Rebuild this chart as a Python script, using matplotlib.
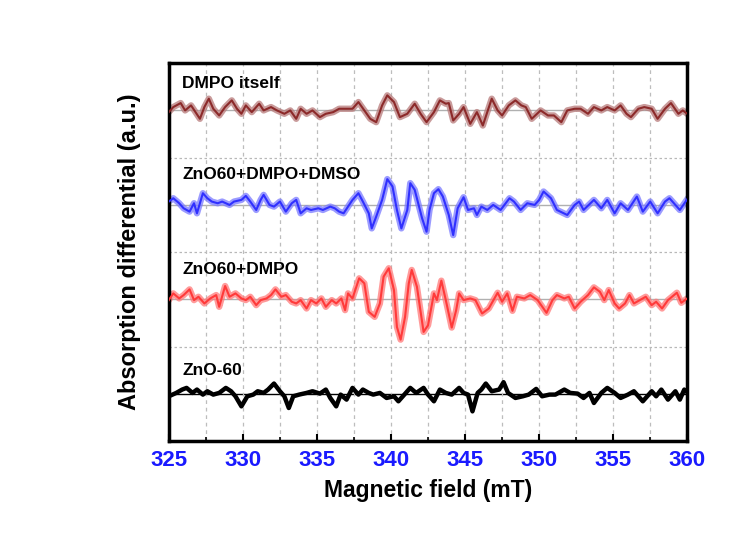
import matplotlib
matplotlib.use("Agg")
import matplotlib.pyplot as plt
from matplotlib.ticker import MultipleLocator

plt.rcParams["font.family"] = ["Liberation Sans", "DejaVu Sans"]
plt.rcParams["font.weight"] = "bold"

# spectra: field (mT) and signal (a.u.), band height = 282 a.u.
zno60_field = [325.0, 325.5, 325.9, 326.2, 326.6, 326.9, 327.3, 327.6, 328.0, 328.4, 328.85,
               329.2, 329.5, 329.9, 330.3, 330.7, 331.0, 331.4, 331.7, 332.1, 332.5, 332.8,
               333.1, 333.4, 333.8, 334.3, 334.7, 335.2, 335.6, 335.9, 336.3, 336.6, 337.0,
               337.4, 337.8, 338.1, 338.5, 338.8, 339.25, 339.7, 340.2, 340.5, 341.0, 341.3,
               341.7, 342.2, 342.5, 342.9, 343.3, 343.7, 344.1, 344.6, 344.9, 345.2, 345.5,
               345.85, 346.1, 346.4, 346.8, 347.3, 347.6, 347.9, 348.4, 348.9, 349.3, 349.8,
               350.2, 350.7, 351.1, 351.7, 352.1, 352.6, 353.0, 353.4, 353.7, 354.2, 354.6,
               355.1, 355.5, 356.0, 356.4, 357.0, 357.6, 357.9, 358.25, 358.7, 359.2, 359.5,
               359.8, 360.0]
zno60_signal = [-7, 3, 13, 18, 3, 13, -2, 8, -2, 3, 18,
                8, -7, -37, -7, -2, 8, 3, 13, 31, 8, -7,
                -42, -7, -2, 3, 8, 1, 13, -12, -37, -2, -17,
                18, -2, 13, 3, -2, 3, -12, -7, -22, 3, 18,
                3, 18, -2, -22, 13, 3, -2, 18, 3, -2, -52,
                3, 13, 31, 8, 13, 35, 3, -12, -7, -2, 15,
                -7, -2, -2, 13, 3, 1, -12, 3, -27, 3, 18,
                3, -12, -2, 8, -22, 8, -7, 13, -17, 8, -17,
                13, 5]

dmpo_field = [325.0, 325.3, 325.7, 326.0, 326.4, 326.7, 327.0, 327.4, 327.8, 328.2, 328.4,
              328.8, 329.1, 329.5, 329.9, 330.2, 330.5, 330.9, 331.2, 331.6, 331.9, 332.2,
              332.6, 332.9, 333.3, 333.6, 333.9, 334.3, 334.6, 334.95, 335.3, 335.6, 336.0,
              336.3, 336.65, 336.9, 337.1, 337.4, 337.85, 338.2, 338.5, 338.9, 339.25, 339.5,
              339.85, 340.2, 340.4, 340.65, 340.95, 341.2, 341.4, 341.75, 342.2, 342.5, 342.9,
              343.1, 343.4, 343.7, 344.1, 344.4, 344.6, 344.9, 345.35, 345.7, 346.15, 346.6,
              347.2, 347.5, 347.85, 348.2, 348.5, 349.0, 349.4, 349.9, 350.5, 350.9, 351.2,
              351.7, 352.0, 352.4, 352.8, 353.3, 353.7, 354.1, 354.4, 354.7, 355.1, 355.4,
              355.8, 356.1, 356.4, 356.8, 357.2, 357.6, 357.9, 358.3, 358.7, 359.3, 359.6,
              360.0]
dmpo_signal = [-2, 18, 3, 13, 30, -2, 8, -12, 3, 13, -22,
               40, 8, 18, 3, -2, 8, -17, -2, 3, 13, 30,
               8, 13, -7, -12, -2, -27, -2, -12, 3, -22, -2,
               -12, 3, -32, 18, 3, 63, 48, -37, -52, -12, 68,
               93, 28, -82, -120, -52, 48, 88, 38, -97, -77, 18,
               -2, 56, -2, -84, -32, 18, -2, 3, -2, -42, -27,
               20, -7, 18, -34, 8, 3, 13, -2, -40, -2, 13,
               3, 8, -27, -7, 13, 36, 23, -2, 28, -12, -27,
               -12, 13, -12, -2, 8, -17, -7, -27, -2, 20, -10,
               3]

dmso_field = [325.0, 325.3, 325.7, 326.0, 326.4, 326.7, 326.9, 327.3, 327.6, 327.9, 328.3,
              328.6, 329.1, 329.4, 329.9, 330.2, 330.5, 330.9, 331.2, 331.4, 331.8, 332.1,
              332.5, 332.9, 333.3, 333.6, 333.9, 334.3, 334.6, 335.1, 335.4, 335.9, 336.2,
              336.5, 336.8, 337.1, 337.4, 337.8, 338.1, 338.5, 338.7, 339.0, 339.4, 339.75,
              340.1, 340.4, 340.7, 341.1, 341.3, 341.6, 342.1, 342.4, 342.6, 342.9, 343.2,
              343.5, 343.9, 344.2, 344.5, 344.9, 345.2, 345.6, 345.8, 346.1, 346.5, 346.9,
              347.4, 348.0, 348.3, 348.75, 349.2, 349.7, 350.0, 350.3, 350.8, 351.2, 351.9,
              352.4, 352.7, 353.0, 353.7, 354.2, 354.6, 355.1, 355.5, 356.0, 356.6, 357.0,
              357.5, 358.0, 358.5, 358.8, 359.5, 360.0]
dmso_signal = [10, 20, 5, -10, -20, 5, -25, 35, 20, 10, 5,
               10, 0, 10, 15, 27, 10, -15, 15, 30, 0, -5,
               10, -20, 5, 15, -25, -10, -15, -10, -15, -5, -10,
               -20, -25, -5, 15, 35, 10, -25, -70, -35, 15, 77,
               55, -15, -70, -15, 65, 45, -40, -80, -15, 35, 47,
               25, -30, -90, -10, 23, -15, -10, -30, -5, -15, 0,
               -15, 20, 10, -15, 5, 0, 15, 40, 20, -15, -30,
               0, 10, -15, 15, -10, 15, -25, 5, -15, 25, -20,
               10, -25, 10, 20, -15, 17]

itself_field = [325.0, 325.3, 325.8, 326.1, 326.5, 326.8, 327.1, 327.4, 327.7, 328.0, 328.4,
                328.8, 329.25, 329.6, 329.9, 330.2, 330.6, 331.1, 331.4, 331.9, 332.3, 332.8,
                333.2, 333.6, 333.9, 334.3, 334.7, 335.2, 335.6, 336.1, 336.5, 337.0, 337.4,
                337.8, 338.2, 338.6, 339.0, 339.4, 339.75, 340.2, 340.6, 341.1, 341.6, 342.0,
                342.4, 342.9, 343.3, 343.7, 343.9, 344.2, 344.6, 344.9, 345.35, 345.8, 346.2,
                346.5, 346.8, 347.2, 347.5, 347.95, 348.4, 348.8, 349.1, 349.5, 350.1, 350.6,
                351.0, 351.5, 351.9, 352.4, 352.8, 353.3, 353.7, 354.2, 354.6, 355.1, 355.5,
                355.9, 356.2, 356.7, 357.1, 357.6, 358.0, 358.5, 358.9, 359.4, 359.7, 360.0]
itself_signal = [-5, 10, 22, 0, 15, -5, -25, 10, 35, 5, -15,
                 10, 30, 5, -10, 15, -5, 20, 0, 10, 0, -10,
                 0, -25, 5, -10, 0, -20, -10, -5, 5, 5, 5,
                 25, 0, -25, -35, 15, 45, 25, -20, -10, 20, -10,
                 -35, -5, 30, 20, 22, -30, -10, 10, -40, -5, -45,
                 -5, 35, 0, -15, 15, 30, 15, 10, -25, 0, -15,
                 -15, -35, 0, 5, 5, -10, 10, 0, 10, 0, 15,
                 -10, -20, 5, 10, 5, -25, 5, 22, -10, 0, -10]

labels = ["ZnO-60", "ZnO60+DMPO", "ZnO60+DMPO+DMSO", "DMPO itself"]
fields = [zno60_field, dmpo_field, dmso_field, itself_field]
signals = [zno60_signal, dmpo_signal, dmso_signal, itself_signal]
glow = ["#000000", "#ff7a7a", "#7a7aff", "#b87a7a"]
core = ["#000000", "#ff3a3a", "#3030ff", "#8c2a2a"]
base_color = ["#000000", "#b0b0b0", "#b0b0b0", "#b0b0b0"]
band = 282
offsets = [0.5 * band, 1.5 * band, 2.5 * band, 3.5 * band]
label_y = [0.75 * band, 1.82 * band, 2.82 * band, 3.78 * band]

fig = plt.figure(figsize=(7.47, 5.40), dpi=100)
ax = fig.add_axes([0.226, 0.183, 0.694, 0.700])

for i in range(4):
    ax.axhline(offsets[i], color=base_color[i], lw=1.0, zorder=1)
for k in (1, 2, 3):
    ax.axhline(k * band, color="#b8b8b8", lw=0.9, ls=(0, (2, 2)), zorder=0)

ax.xaxis.set_major_locator(MultipleLocator(5))
ax.xaxis.set_minor_locator(MultipleLocator(2.5))
ax.grid(axis="x", which="both", color="#bdbdbd", lw=0.9, ls=(0, (3, 3)), zorder=0)

for i in range(4):
    y = [s + offsets[i] for s in signals[i]]
    if i == 0:
        ax.plot(fields[i], y, color=core[i], lw=3.2, solid_joinstyle="round", zorder=3)
    else:
        ax.plot(fields[i], y, color=glow[i], lw=4.6, alpha=0.75, solid_joinstyle="round", zorder=2)
        ax.plot(fields[i], y, color=core[i], lw=1.5, solid_joinstyle="round", zorder=3)
    ax.text(325.9, label_y[i], labels[i], fontsize=12.5, fontweight="bold", va="center", ha="left")

ax.set_xlim(325, 360)
ax.set_ylim(0, 4 * band)
ax.set_yticks([])
ax.tick_params(axis="x", which="major", direction="in", length=5, width=1.5,
               labelsize=16, labelcolor="#1a1aff", pad=6)
ax.tick_params(axis="x", which="minor", direction="in", length=3, width=1.2)
for sp in ax.spines.values():
    sp.set_linewidth(2.5)
for lab in ax.get_xticklabels():
    lab.set_fontweight("bold")

ax.set_xlabel("Magnetic field (mT)", fontsize=16.5, fontweight="bold", labelpad=6)
ax.set_ylabel("Absorption differential (a.u.)", fontsize=17, fontweight="bold", labelpad=20)

fig.savefig("out.png", dpi=100)
